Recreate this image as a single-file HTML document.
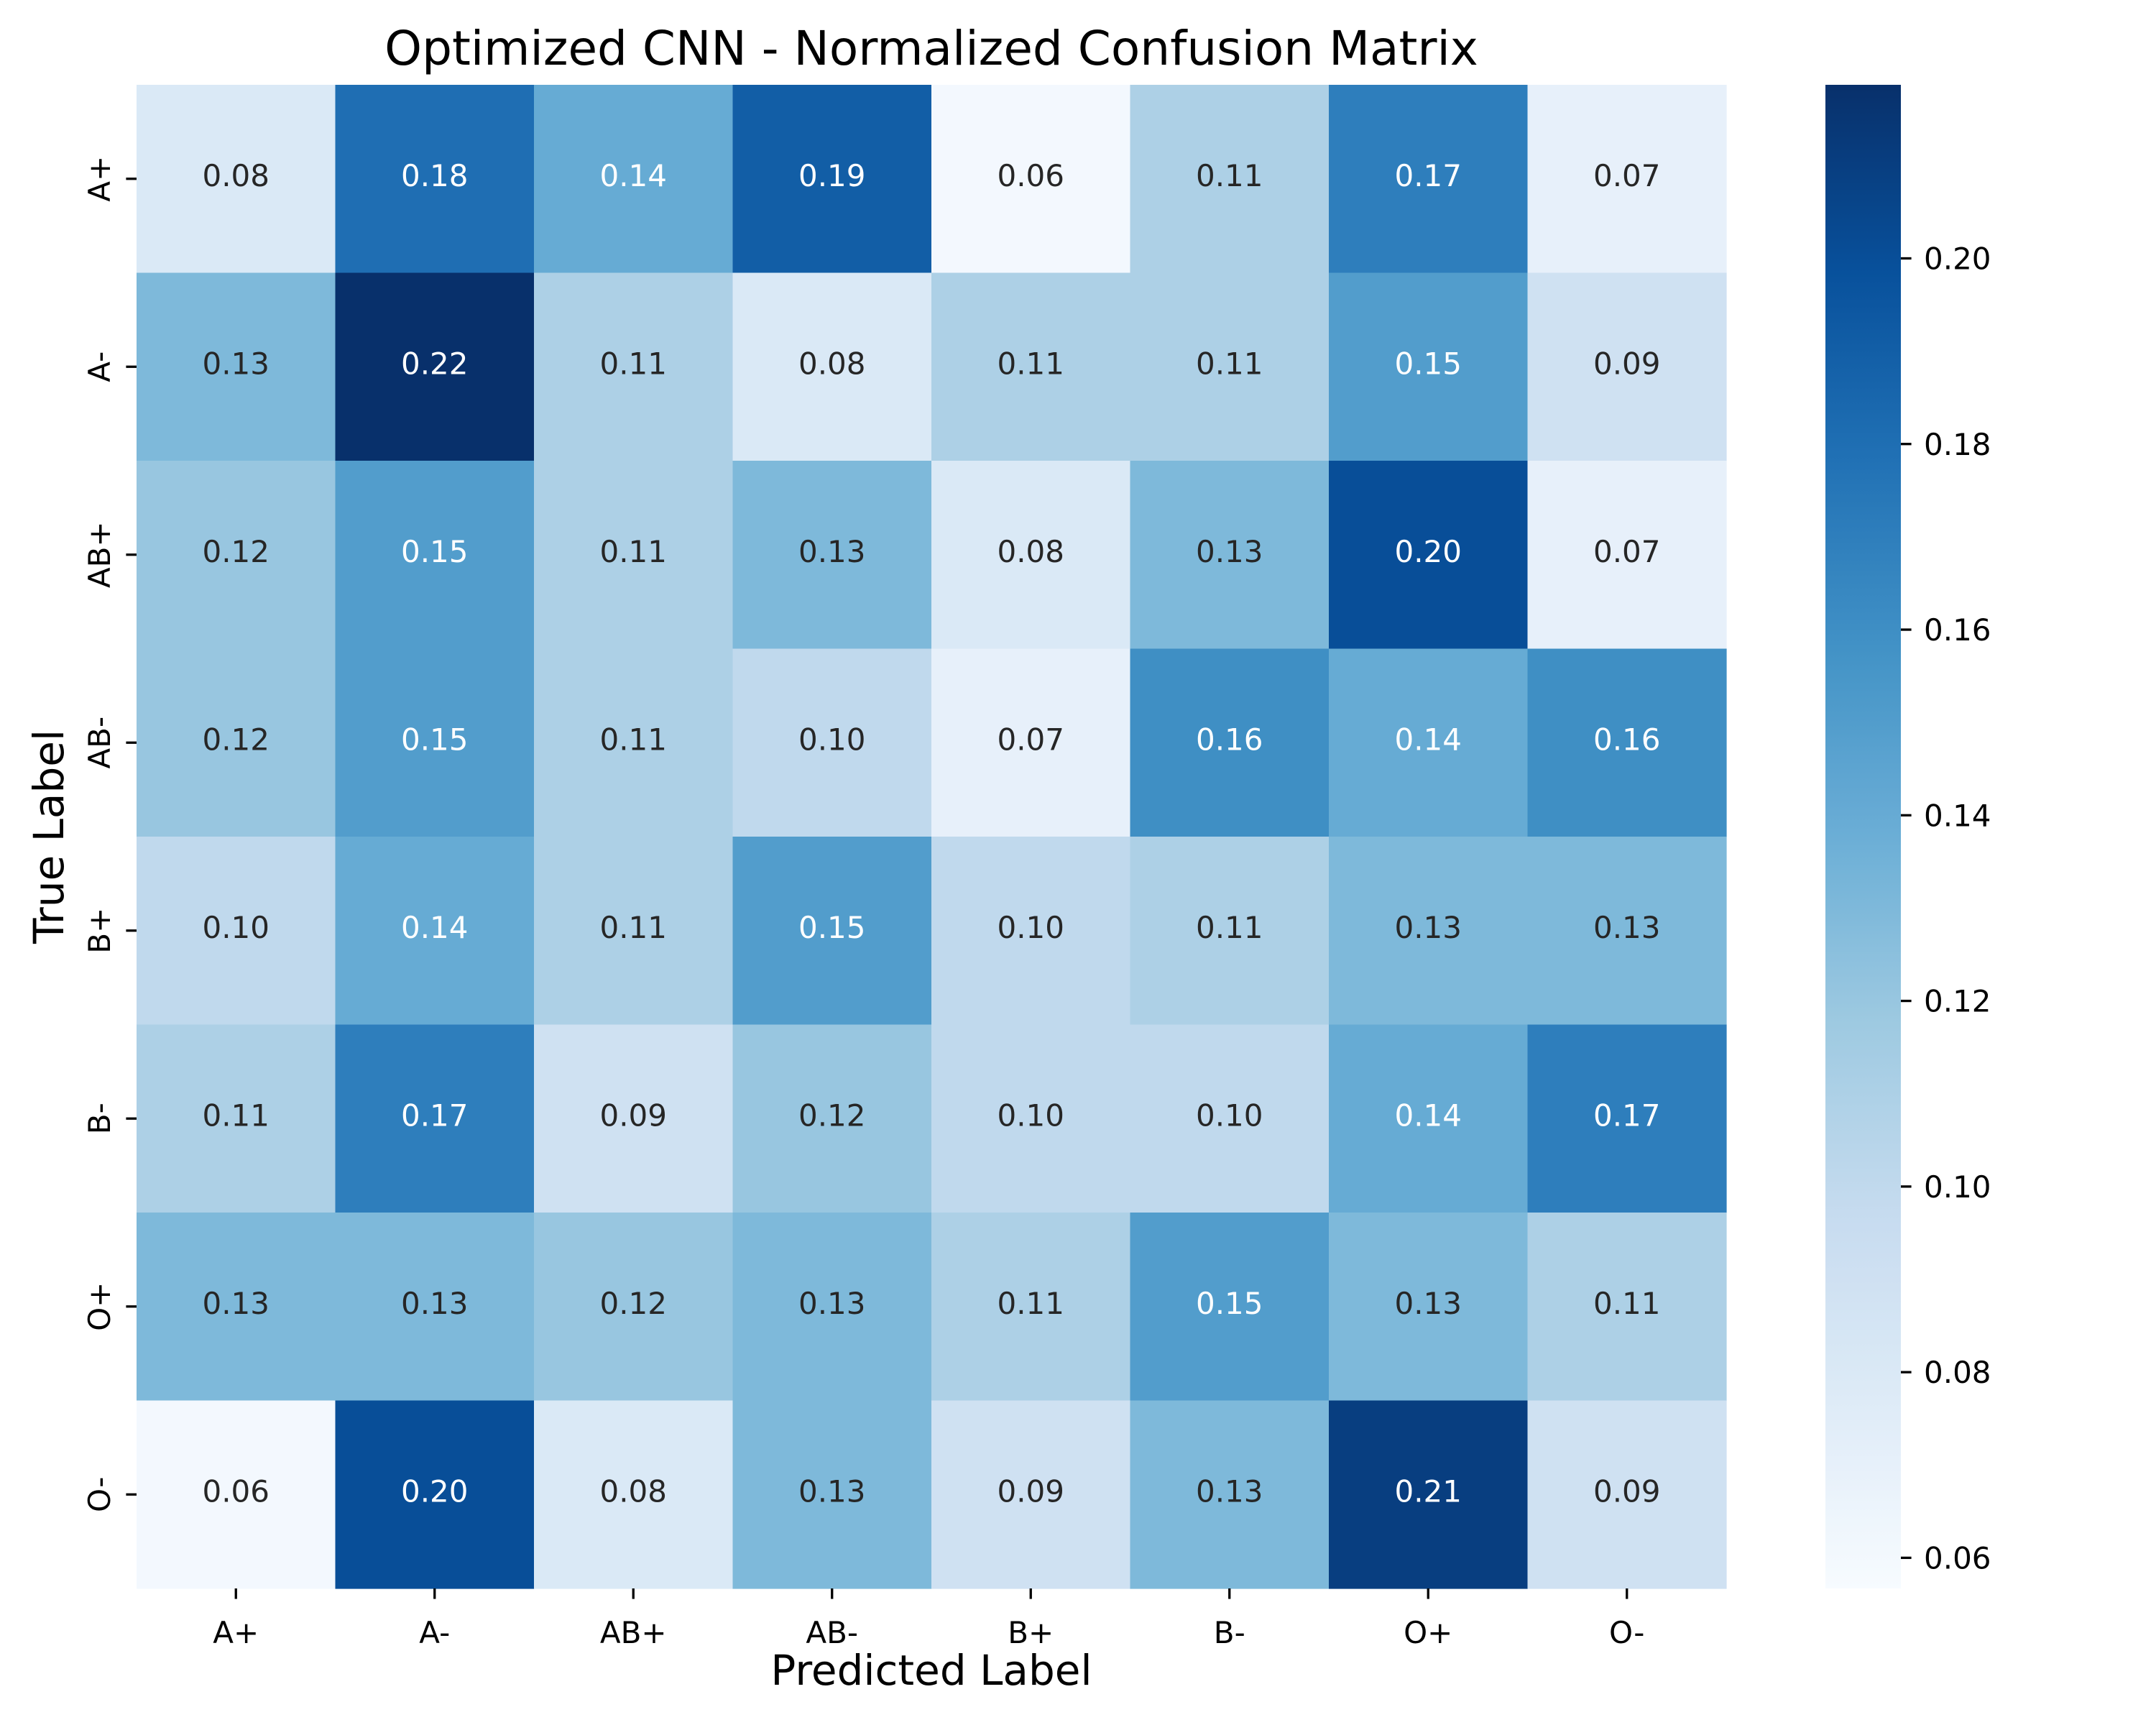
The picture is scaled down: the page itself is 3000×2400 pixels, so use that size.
<!DOCTYPE html>
<html><head><meta charset="utf-8">
<style>
html,body{margin:0;padding:0;background:#fff;}
svg{display:block;font-family:"DejaVu Sans","Liberation Sans",sans-serif;}
</style></head>
<body>
<svg id="chart" width="3000" height="2400" viewBox="0 0 3000 2400" xmlns="http://www.w3.org/2000/svg">
<defs>
<linearGradient id="cbgrad" x1="0" y1="1" x2="0" y2="0"></linearGradient>
</defs>
<rect width="3000" height="2400" fill="#fff"/>
<text x="1296" y="90" font-size="66" text-anchor="middle" fill="#000">Optimized CNN - Normalized Confusion Matrix</text>
<text x="1296" y="2344" font-size="58" text-anchor="middle" fill="#000">Predicted Label</text>
<text x="0" y="0" font-size="58" text-anchor="middle" fill="#000" transform="translate(88,1164) rotate(-90)">True Label</text>
<g id="cells"></g>
<g id="xticks"></g>
<g id="yticks"></g>
<rect x="2540" y="118" width="105" height="2092" fill="url(#cbgrad)"/>
<g id="cbticks"></g>
</svg>
<script>
const predictedLabels = ["A+","A-","AB+","AB-","B+","B-","O+","O-"];
const trueLabels = ["A+","A-","AB+","AB-","B+","B-","O+","O-"];
const rowAp  = [0.08,0.18,0.14,0.19,0.06,0.11,0.17,0.07];
const rowAm  = [0.13,0.22,0.11,0.08,0.11,0.11,0.15,0.09];
const rowABp = [0.12,0.15,0.11,0.13,0.08,0.13,0.20,0.07];
const rowABm = [0.12,0.15,0.11,0.10,0.07,0.16,0.14,0.16];
const rowBp  = [0.10,0.14,0.11,0.15,0.10,0.11,0.13,0.13];
const rowBm  = [0.11,0.17,0.09,0.12,0.10,0.10,0.14,0.17];
const rowOp  = [0.13,0.13,0.12,0.13,0.11,0.15,0.13,0.11];
const rowOm  = [0.06,0.20,0.08,0.13,0.09,0.13,0.21,0.09];
const matrix = [rowAp,rowAm,rowABp,rowABm,rowBp,rowBm,rowOp,rowOm];
const cbTicks = [0.06,0.08,0.10,0.12,0.14,0.16,0.18,0.20];
const vmin = 0.0567, vmax = 0.2187;

const NS = "http://www.w3.org/2000/svg";
const X0 = 190, X1 = 2402, Y0 = 118, Y1 = 2210;
const CW = (X1 - X0) / predictedLabels.length, CH = (Y1 - Y0) / trueLabels.length;
const xPos = i => X0 + CW * i;
const yPos = i => Y0 + CH * i;
const cbY = v => Y1 - (v - vmin) / (vmax - vmin) * (Y1 - Y0);

const blues = ["#f7fbff","#deebf7","#c6dbef","#9ecae1","#6baed6","#4292c6","#2171b5","#08519c","#08306b"];
function hex(h){return [1,3,5].map(i=>parseInt(h.substr(i,2),16));}
function cmap(t){
  t=Math.max(0,Math.min(1,t));
  const p=t*(blues.length-1), i=Math.min(Math.floor(p),blues.length-2), f=p-i;
  const a=hex(blues[i]), b=hex(blues[i+1]);
  return a.map((c,k)=>Math.round(c+(b[k]-c)*f));
}
function lum(rgb){
  const c=rgb.map(v=>{v/=255;return v<=0.03928?v/12.92:Math.pow((v+0.055)/1.055,2.4);});
  return 0.2126*c[0]+0.7152*c[1]+0.0722*c[2];
}
function mk(tag, attrs, parent){
  const e=document.createElementNS(NS,tag);
  for(const k in attrs) e.setAttribute(k, attrs[k]);
  parent.appendChild(e); return e;
}

const cells=document.getElementById("cells");
matrix.forEach((row,r)=>{
  row.forEach((v,c)=>{
    const rgb=cmap((v-vmin)/(vmax-vmin));
    const rect=mk("rect",{x:xPos(c),y:yPos(r),width:CW+0.6,height:CH+0.6,fill:`rgb(${rgb.join(",")})`},cells);
    
    
    const t=mk("text",{x:xPos(c)+CW/2,y:yPos(r)+CH/2+10,"font-size":42,"text-anchor":"middle",fill:lum(rgb)<0.408?"#ffffff":"#262626"},cells);
    
    
    t.textContent=v.toFixed(2);
  });
});

const xt=document.getElementById("xticks");
predictedLabels.forEach((l,i)=>{
  const cx=xPos(i)+CW/2;
  mk("line",{x1:cx,y1:Y1,x2:cx,y2:Y1+14.6,stroke:"#000","stroke-width":3.3},xt);
  const t=mk("text",{x:cx,y:2286,"font-size":42,"text-anchor":"middle",fill:"#000"},xt);
  
  
  t.textContent=l;
});
const yt=document.getElementById("yticks");
trueLabels.forEach((l,i)=>{
  const cy=yPos(i)+CH/2;
  mk("line",{x1:X0,y1:cy,x2:X0-14.6,y2:cy,stroke:"#000","stroke-width":3.3},yt);
  const t=mk("text",{x:0,y:0,"font-size":42,"text-anchor":"middle",fill:"#000",transform:`translate(153,${cy}) rotate(-90)`},yt);
  
  
  t.textContent=l;
});

const grad=document.getElementById("cbgrad");
for(let i=0;i<=40;i++){
  const rgb=cmap(i/40);
  mk("stop",{offset:(i/40*100)+"%","stop-color":`rgb(${rgb.join(",")})`},grad);
}
const cb=document.getElementById("cbticks");
cbTicks.forEach(v=>{
  const y=cbY(v);
  mk("line",{x1:2645,y1:y,x2:2659.6,y2:y,stroke:"#000","stroke-width":3.3},cb);
  const t=mk("text",{x:2677,y:y+15,"font-size":42,fill:"#000"},cb);
  
  
  t.textContent=v.toFixed(2);
});
</script>
</body></html>
